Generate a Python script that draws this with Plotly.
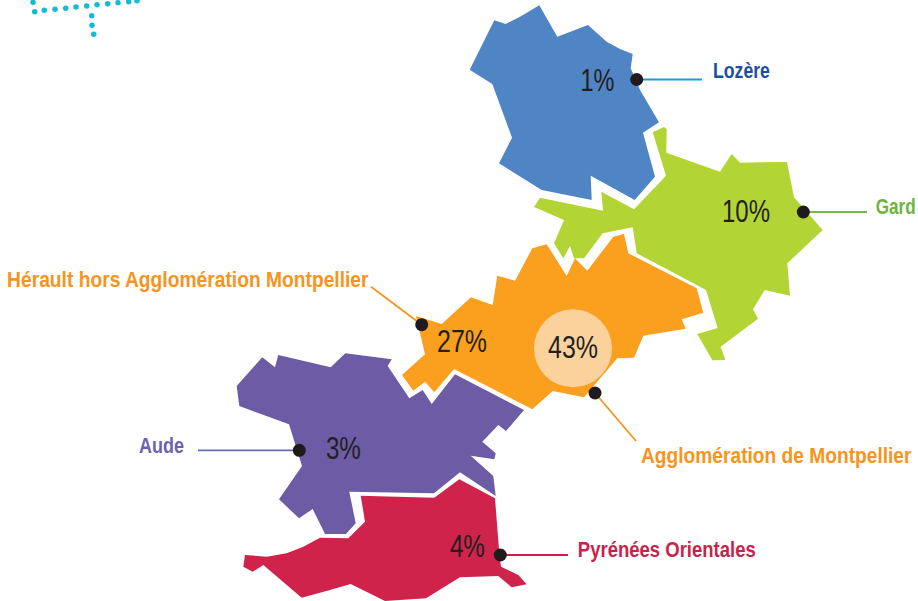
import json
import plotly.graph_objects as go

regions = ["Lozère", "Gard", "Hérault hors Agglomération Montpellier", "Agglomération de Montpellier", "Aude", "Pyrénées Orientales"]
shares = [1, 10, 27, 43, 3, 4]

lozere = [(539.3,5.3),(557.3,36.7),(588,25),(606.7,41.7),(620,49),(632.7,54),(630.7,68.3),(640,90),(659,122.3),(643,132.7),(655,176.7),(634.7,200),(590.7,175.7),(591.7,200),(541.7,190),(499,163.3),(512,137.7),(492.3,84),(469.7,69.7),(494.3,20.3),(505.7,24),(520,16.7)]
gard = [(652.7,132.3),(664,127),(666.7,129),(666.3,152.7),(720,171.7),(731.7,154),(740,162.7),(787,162),(794,197.3),(822.7,230),(787.3,263.3),(790,295.7),(764.7,290),(753,309.3),(758,318.7),(720.7,346.7),(725.3,360),(712.3,360.3),(697.3,334),(717.7,328),(706,290),(700,286.7),(636.7,253.3),(632.7,227.3),(602.7,233.3),(584,258.3),(574,258.3),(570,246),(563.3,258.3),(554,243.3),(564,220),(534,207),(540,197.7),(603,210.7),(601.3,191.7),(634,209.3),(666,175.7)]
herault = [(546.7,244.3),(566.7,276),(575,258.3),(587.3,270.7),(613.3,236.7),(624,234),(628.3,253.3),(696.7,288.3),(703.3,312.7),(681.7,319.3),(685.7,328.7),(643.3,335.7),(634,357.7),(617.3,358.3),(584,397.3),(552.7,391),(532.3,409.3),(454,369),(434.3,392.3),(425,381.7),(413.3,390.7),(402,375),(425,354.3),(416,316),(441.7,324),(471,297.3),(492.7,305),(497.3,275.7),(515,280.7),(532.3,248.3)]
aude = [(262.3,357.3),(275,367.3),(278.3,355),(330.7,367.3),(345.3,353.3),(391.7,359.3),(387.7,366),(409.3,398.3),(422.7,390),(431.7,404),(455,374.3),(524,410),(506,431),(498.3,425),(482.3,441.7),(495.7,453.3),(494.3,459.3),(470.7,455.7),(493.3,476),(495.7,496),(460,472.3),(434,493.3),(349.3,491.7),(355.7,523.3),(346,534),(325,534),(312.7,509),(299,518.3),(279,499.3),(302,466),(289,424.3),(239.3,406),(236.7,386)]
pyrenees = [(360.7,495.7),(434.3,497.7),(459.3,479.3),(495,498.3),(499.3,553.3),(501,566.7),(518.3,575),(526.7,584.3),(511.7,587.3),(498.3,576),(460,577.3),(426,598.3),(385,601),(350.7,584),(330,590),(301.7,597.7),(263.3,565),(252.7,571.7),(243.3,566.7),(245,555),(266.7,556.7),(286.7,553.3),(303.3,546.7),(320,537.7),(348.3,538.3),(365,521.7)]

teal_x = [33,34.7,44.3,55,65.7,76,86.7,97,107.7,118,128.7,137,91.7,92,93.7]
teal_y = [2.3,11.7,10.3,9.3,8.3,7,6,4.7,3.7,2.7,1.7,0.7,15.7,25.3,34.3]

FILLS = ["#4f85c5", "#b2d434", "#fa9f1e", "#fa9f1e", "#6c5ba5", "#cf234c"]
LABEL_COLORS = ["#1d4f9c", "#6fb33f", "#f7941d", "#f7941d", "#6b63ad", "#cc1f4b"]
LINE_COLORS = ["#1a9cd8", "#7ab648", "#f7941d", "#f7941d", "#6b6bb5", "#cc1f4b"]
outlines = [lozere, gard, herault, None, aude, pyrenees]

dots = [(636.7,79.5),(803.3,212),(421.7,324.7),(595,393),(299.3,450.3),(500.3,555)]
line_ends = [(702,79.5),(867,212),(371,286.7),(636,441),(198,450.3),(568,555)]
# text extents: left, right, vertical centre
label_ext = [(713,770,70),(875,915,206),(7,369,279),(641,912,455),(139,184,445),(578,756,549)]
share_ext = [(580,614,80),(722,770,211),(437,487,341),(548,598,347),(326,361,448),(450,485,546)]

fig = go.Figure()
fig.add_trace(go.Scatter(x=teal_x, y=teal_y, mode="markers", marker=dict(color="#12bcd4", size=5.5), hoverinfo="skip"))
for name, outline, color in zip(regions, outlines, FILLS):
    if outline is None:
        continue
    xs = [p[0] for p in outline] + [outline[0][0]]
    ys = [p[1] for p in outline] + [outline[0][1]]
    fig.add_trace(go.Scatter(x=xs, y=ys, name=name, mode="lines", fill="toself", fillcolor=color, line=dict(width=0, color=color), hoverinfo="name"))
fig.add_trace(go.Scatter(x=[573], y=[348.3], mode="markers", marker=dict(color="#fcd29c", size=78), hoverinfo="skip"))
for d, e, c in zip(dots, line_ends, LINE_COLORS):
    fig.add_trace(go.Scatter(x=[d[0], e[0]], y=[d[1], e[1]], mode="lines", line=dict(color=c, width=1.8), hoverinfo="skip"))
fig.add_trace(go.Scatter(x=[d[0] for d in dots], y=[d[1] for d in dots], mode="markers", marker=dict(color="#1f1a1c", size=13), hoverinfo="skip"))

widths = {}
for name, c, (l, r, y) in zip(regions, LABEL_COLORS, label_ext):
    widths[name] = r - l
    fig.add_annotation(x=(l + r) / 2, y=y, text=name, showarrow=False, xanchor="center", yanchor="middle",
                       font=dict(family="Liberation Sans", size=22, color=c, weight=700))
for v, (l, r, y) in zip(shares, share_ext):
    widths[f"{v}%"] = r - l
    fig.add_annotation(x=(l + r) / 2, y=y, text=f"{v}%", showarrow=False, xanchor="center", yanchor="middle",
                       font=dict(family="Liberation Sans", size=31, color="#231f20"))

fig.update_layout(width=918, height=601, margin=dict(l=0, r=0, t=0, b=0), showlegend=False,
                  paper_bgcolor="white", plot_bgcolor="white",
                  xaxis=dict(range=[0, 918], visible=False, fixedrange=True),
                  yaxis=dict(range=[601, 0], visible=False, fixedrange=True))

post = """
document.body.style.margin = '0';
document.documentElement.style.overflow = 'hidden';
var w = %s;
document.querySelectorAll('.annotation-text').forEach(function (t) {
  var k = t.textContent;
  var b = t.getBBox();
  if (w[k] && b.width) {
    var cx = b.x + b.width / 2;
    t.setAttribute('transform', 'translate(' + cx + ',0) scale(' + (w[k] / b.width) + ',1) translate(' + (-cx) + ',0)');
  }
  t.parentNode.querySelectorAll('rect').forEach(function (r) { r.remove(); });
});
""" % json.dumps(widths)
fig.write_html("out.html", config=dict(displayModeBar=False), post_script=post)
